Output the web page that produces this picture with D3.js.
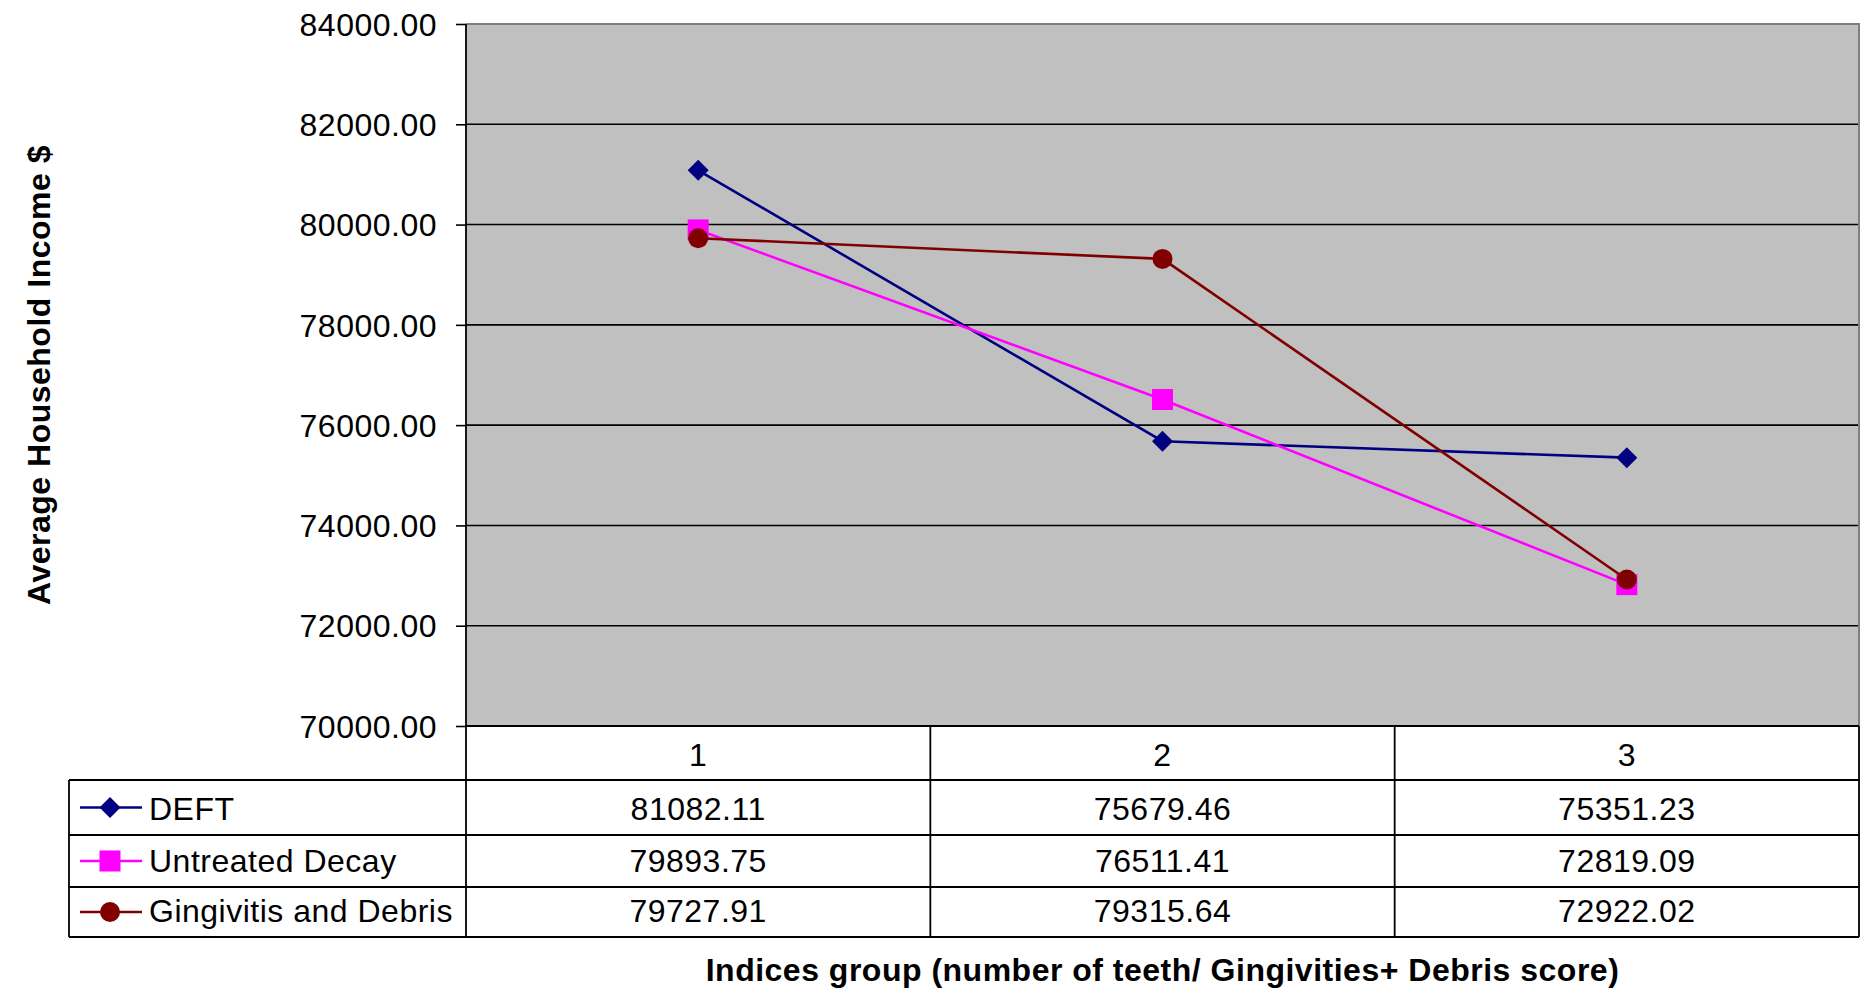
<!DOCTYPE html>
<html>
<head>
<meta charset="utf-8">
<script src="https://cdn.jsdelivr.net/npm/d3@7"></script>
<style>
  html, body { margin: 0; padding: 0; background: #fff; }
  svg { display: block; font-family: "Liberation Sans", Arial, sans-serif; }
  svg text { letter-spacing: 0.5px; }
</style>
</head>
<body>
<svg id="chart" width="1865" height="995"></svg>
<script>
// Household income by indices group
const categories = ["1", "2", "3"];
const seriesNames = ["DEFT", "Untreated Decay", "Gingivitis and Debris"];
const deftValues = [81082.11, 75679.46, 75351.23];
const decayValues = [79893.75, 76511.41, 72819.09];
const gingivitisValues = [79727.91, 79315.64, 72922.02];
const yTicks = [70000, 72000, 74000, 76000, 78000, 80000, 82000, 84000];
const yTitle = "Average Household Income $";
const xTitle = "Indices group (number of teeth/ Gingivities+ Debris score)";

const series = [
  { name: seriesNames[0], values: deftValues, color: "#000080", marker: "diamond" },
  { name: seriesNames[1], values: decayValues, color: "#FF00FF", marker: "square" },
  { name: seriesNames[2], values: gingivitisValues, color: "#800000", marker: "circle" }
];

const svg = d3.select("#chart");
const plot = { left: 466, right: 1859, top: 24, bottom: 726 };
const tableLeft = 69;
const rowBottoms = [780, 835, 887, 937];   // header row, then one row per series

const y = d3.scaleLinear().domain([70000, 84000]).range([plot.bottom, plot.top]);
const x = d3.scaleBand().domain(categories).range([plot.left, plot.right]);
const cx = c => x(c) + x.bandwidth() / 2;

// Plot area background
svg.append("rect")
  .attr("x", plot.left).attr("y", plot.top)
  .attr("width", plot.right - plot.left).attr("height", plot.bottom - plot.top)
  .attr("fill", "#C0C0C0");

// Horizontal gridlines
svg.append("g").selectAll("line")
  .data(yTicks.filter(t => t > 70000 && t < 84000))
  .join("line")
  .attr("x1", plot.left).attr("x2", plot.right)
  .attr("y1", d => y(d)).attr("y2", d => y(d))
  .attr("stroke", "#000").attr("stroke-width", 1.6);

// Gray frame on top and right edges of the plot area
svg.append("path")
  .attr("d", `M${plot.left},${plot.top}H${plot.right}V${plot.bottom}`)
  .attr("fill", "none").attr("stroke", "#808080").attr("stroke-width", 2);

// Y axis
const yAxis = d3.axisLeft(y).tickValues(yTicks).tickSize(10).tickPadding(19)
  .tickFormat(d => d3.format(".2f")(d));
const yg = svg.append("g").attr("transform", `translate(${plot.left},0)`).call(yAxis);
yg.select(".domain").remove();
yg.selectAll(".tick line").attr("stroke", "#000").attr("stroke-width", 1.6);
yg.selectAll(".tick text")
  .attr("font-size", 32).attr("fill", "#000")
  .attr("font-family", "'Liberation Sans', Arial, sans-serif")
  .attr("dy", "0.35em");

// Data table grid
const grid = svg.append("g").attr("stroke", "#000").attr("stroke-width", 1.8).attr("fill", "none");
// vertical axis line, running through the table
grid.append("line").attr("x1", plot.left).attr("x2", plot.left).attr("y1", plot.top).attr("y2", rowBottoms[3]);
// bottom of plot / top of header row
grid.append("line").attr("x1", plot.left).attr("x2", plot.right).attr("y1", plot.bottom).attr("y2", plot.bottom);
// right edge of the table
grid.append("line").attr("x1", plot.right).attr("x2", plot.right).attr("y1", plot.bottom).attr("y2", rowBottoms[3]);
// column dividers
categories.slice(1).forEach(c => {
  grid.append("line").attr("x1", x(c)).attr("x2", x(c)).attr("y1", plot.bottom).attr("y2", rowBottoms[3]);
});
// row lines
rowBottoms.forEach(rb => {
  grid.append("line").attr("x1", tableLeft).attr("x2", plot.right).attr("y1", rb).attr("y2", rb);
});
// left edge of the legend column
grid.append("line").attr("x1", tableLeft).attr("x2", tableLeft).attr("y1", rowBottoms[0]).attr("y2", rowBottoms[3]);

// Header row: category labels
svg.append("g").selectAll("text")
  .data(categories)
  .join("text")
  .attr("x", d => cx(d)).attr("y", rowBottoms[0] - 14)
  .attr("text-anchor", "middle").attr("font-size", 32).attr("fill", "#000")
  .text(d => d);

// Marker shapes
function drawMarker(g, type, color, px, py) {
  if (type === "diamond") {
    g.append("path")
      .attr("d", `M${px - 10.5},${py}L${px},${py - 10.5}L${px + 10.5},${py}L${px},${py + 10.5}Z`)
      .attr("fill", color);
  } else if (type === "square") {
    g.append("rect").attr("x", px - 10.5).attr("y", py - 10.5)
      .attr("width", 21).attr("height", 21).attr("fill", color);
  } else {
    g.append("circle").attr("cx", px).attr("cy", py).attr("r", 10).attr("fill", color);
  }
}

// Series rows: legend key, name and values
series.forEach((s, i) => {
  const top = rowBottoms[i];
  const bottom = rowBottoms[i + 1];
  const mid = (top + bottom) / 2;
  const row = svg.append("g");
  row.append("line").attr("x1", 80).attr("x2", 142).attr("y1", mid).attr("y2", mid)
    .attr("stroke", s.color).attr("stroke-width", 2.5);
  drawMarker(row, s.marker, s.color, 110, mid);
  row.append("text").attr("x", 149).attr("y", bottom - 15)
    .attr("font-size", 32).attr("fill", "#000").text(s.name);
  row.selectAll("text.val")
    .data(s.values)
    .join("text").attr("class", "val")
    .attr("x", (d, j) => cx(categories[j])).attr("y", bottom - 15)
    .attr("text-anchor", "middle").attr("font-size", 32).attr("fill", "#000")
    .text(d => d3.format(".2f")(d));
});

// Series lines and markers
const line = d3.line().x((d, j) => cx(categories[j])).y(d => y(d));
series.forEach(s => {
  const g = svg.append("g");
  g.append("path").datum(s.values).attr("d", line)
    .attr("fill", "none").attr("stroke", s.color).attr("stroke-width", 2.6);
  s.values.forEach((v, j) => drawMarker(g, s.marker, s.color, cx(categories[j]), y(v)));
});

// Axis titles
svg.append("text")
  .attr("x", (plot.left + plot.right) / 2).attr("y", 981)
  .attr("text-anchor", "middle").attr("font-size", 32).attr("font-weight", "bold")
  .attr("fill", "#000").text(xTitle);

svg.append("text")
  .attr("transform", `translate(50,${(plot.top + plot.bottom) / 2}) rotate(-90)`)
  .attr("text-anchor", "middle").attr("font-size", 32).attr("font-weight", "bold")
  .attr("fill", "#000").text(yTitle);
</script>
</body>
</html>
